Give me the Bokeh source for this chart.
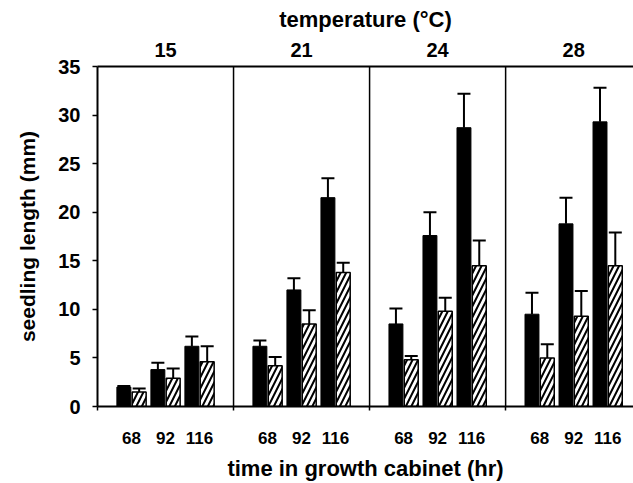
from bokeh.plotting import figure
from bokeh.models import (ColumnDataSource, FixedTicker, LinearAxis, Span, Whisker,
                          TeeHead, Range1d)
from bokeh.embed import file_html
from bokeh.resources import INLINE

temperatures = ["15", "21", "24", "28"]
times = ["68", "92", "116"]
solid_vals = [2.0, 3.8, 6.2, 6.2, 12.0, 21.5, 8.5, 17.6, 28.7, 9.5, 18.8, 29.3]
solid_err = [0.1, 0.7, 1.0, 0.6, 1.2, 2.0, 1.6, 2.4, 3.5, 2.2, 2.7, 3.5]
hatched_vals = [1.5, 2.9, 4.6, 4.2, 8.5, 13.8, 4.8, 9.8, 14.5, 5.0, 9.3, 14.5]
hatched_err = [0.35, 1.0, 1.6, 0.9, 1.4, 1.0, 0.4, 1.4, 2.6, 1.4, 2.6, 3.4]
y_ticks = [0, 5, 10, 15, 20, 25, 30, 35]

FONT = "Liberation Sans"

# group centers: each temperature panel spans 4 units, groups at 1,2,3 inside it
centers = [4 * ti + 1 + gi for ti in range(len(temperatures)) for gi in range(len(times))]
off = 0.225
w = 0.41

src_a = ColumnDataSource(dict(x=[c - off for c in centers], top=solid_vals,
                              up=[v + e for v, e in zip(solid_vals, solid_err)]))
src_b = ColumnDataSource(dict(x=[c + off for c in centers], top=hatched_vals,
                              up=[v + e for v, e in zip(hatched_vals, hatched_err)]))

p = figure(width=633, height=483, output_backend="svg", toolbar_location=None,
           x_range=Range1d(0, 15.76), y_range=Range1d(0, 35),
           x_axis_location=None, y_axis_location=None,
           min_border_left=97, min_border_top=66, min_border_bottom=77, min_border_right=0)
p.outline_line_color = None
p.xgrid.visible = False
p.ygrid.visible = False

for src in (src_a, src_b):
    wk = Whisker(source=src, base="x", lower="top", upper="up", dimension="height",
                 line_color="black", line_width=2,
                 upper_head=TeeHead(size=13, line_color="black", line_width=2),
                 lower_head=None)
    p.add_layout(wk)

p.vbar(x="x", top="top", width=w, source=src_a, fill_color="black", line_color="black",
       line_width=1)
p.vbar(x="x", top="top", width=w, source=src_b, fill_color="white", line_color="black",
       line_width=1.5, hatch_pattern="/", hatch_color="black", hatch_scale=11,
       hatch_weight=2)

for k in range(1, len(temperatures)):
    p.add_layout(Span(location=4 * k, dimension="height", line_color="black", line_width=1.5))


def style(ax, tick_size, label_size):
    ax.axis_line_color = "black"
    ax.axis_line_width = 2
    ax.major_label_text_font = FONT
    ax.major_label_text_font_style = "bold"
    ax.major_label_text_font_size = tick_size
    ax.major_label_text_color = "black"
    ax.axis_label_text_font = FONT
    ax.axis_label_text_font_style = "bold"
    ax.axis_label_text_font_size = label_size
    ax.axis_label_text_color = "black"
    ax.major_tick_line_color = "black"
    ax.minor_tick_line_color = "black"


# left axis
ya = LinearAxis(ticker=FixedTicker(ticks=y_ticks), axis_label="seedling length (mm)")
style(ya, "20px", "21px")
ya.major_tick_out = 5
ya.major_tick_in = 0
ya.major_tick_line_width = 1.5
ya.minor_tick_out = 0
ya.major_label_standoff = 12
ya.axis_label_standoff = 16
p.add_layout(ya, "left")

# bottom axis
xa = LinearAxis(ticker=FixedTicker(ticks=centers, minor_ticks=[0, 4, 8, 12]),
                axis_label="time in growth cabinet (hr)")
style(xa, "17px", "22px")
xa.major_label_overrides = {c: times[i % 3] for i, c in enumerate(centers)}
xa.major_tick_out = 0
xa.major_tick_in = 0
xa.minor_tick_out = 4
xa.minor_tick_in = 0
xa.minor_tick_line_width = 1.5
xa.major_label_standoff = 21
xa.axis_label_standoff = 9
p.add_layout(xa, "below")

# top axis with temperatures
panel_centers = [4 * k + 2 for k in range(len(temperatures))]
ta = LinearAxis(ticker=FixedTicker(ticks=panel_centers), axis_label="temperature (°C)")
style(ta, "20px", "22px")
ta.major_label_overrides = {c: temperatures[i] for i, c in enumerate(panel_centers)}
ta.major_tick_out = 0
ta.major_tick_in = 0
ta.minor_tick_out = 0
ta.minor_tick_in = 0
ta.major_label_standoff = 10
ta.axis_label_standoff = 8
p.add_layout(ta, "above")

open("out.html", "w").write(file_html(p, INLINE))
